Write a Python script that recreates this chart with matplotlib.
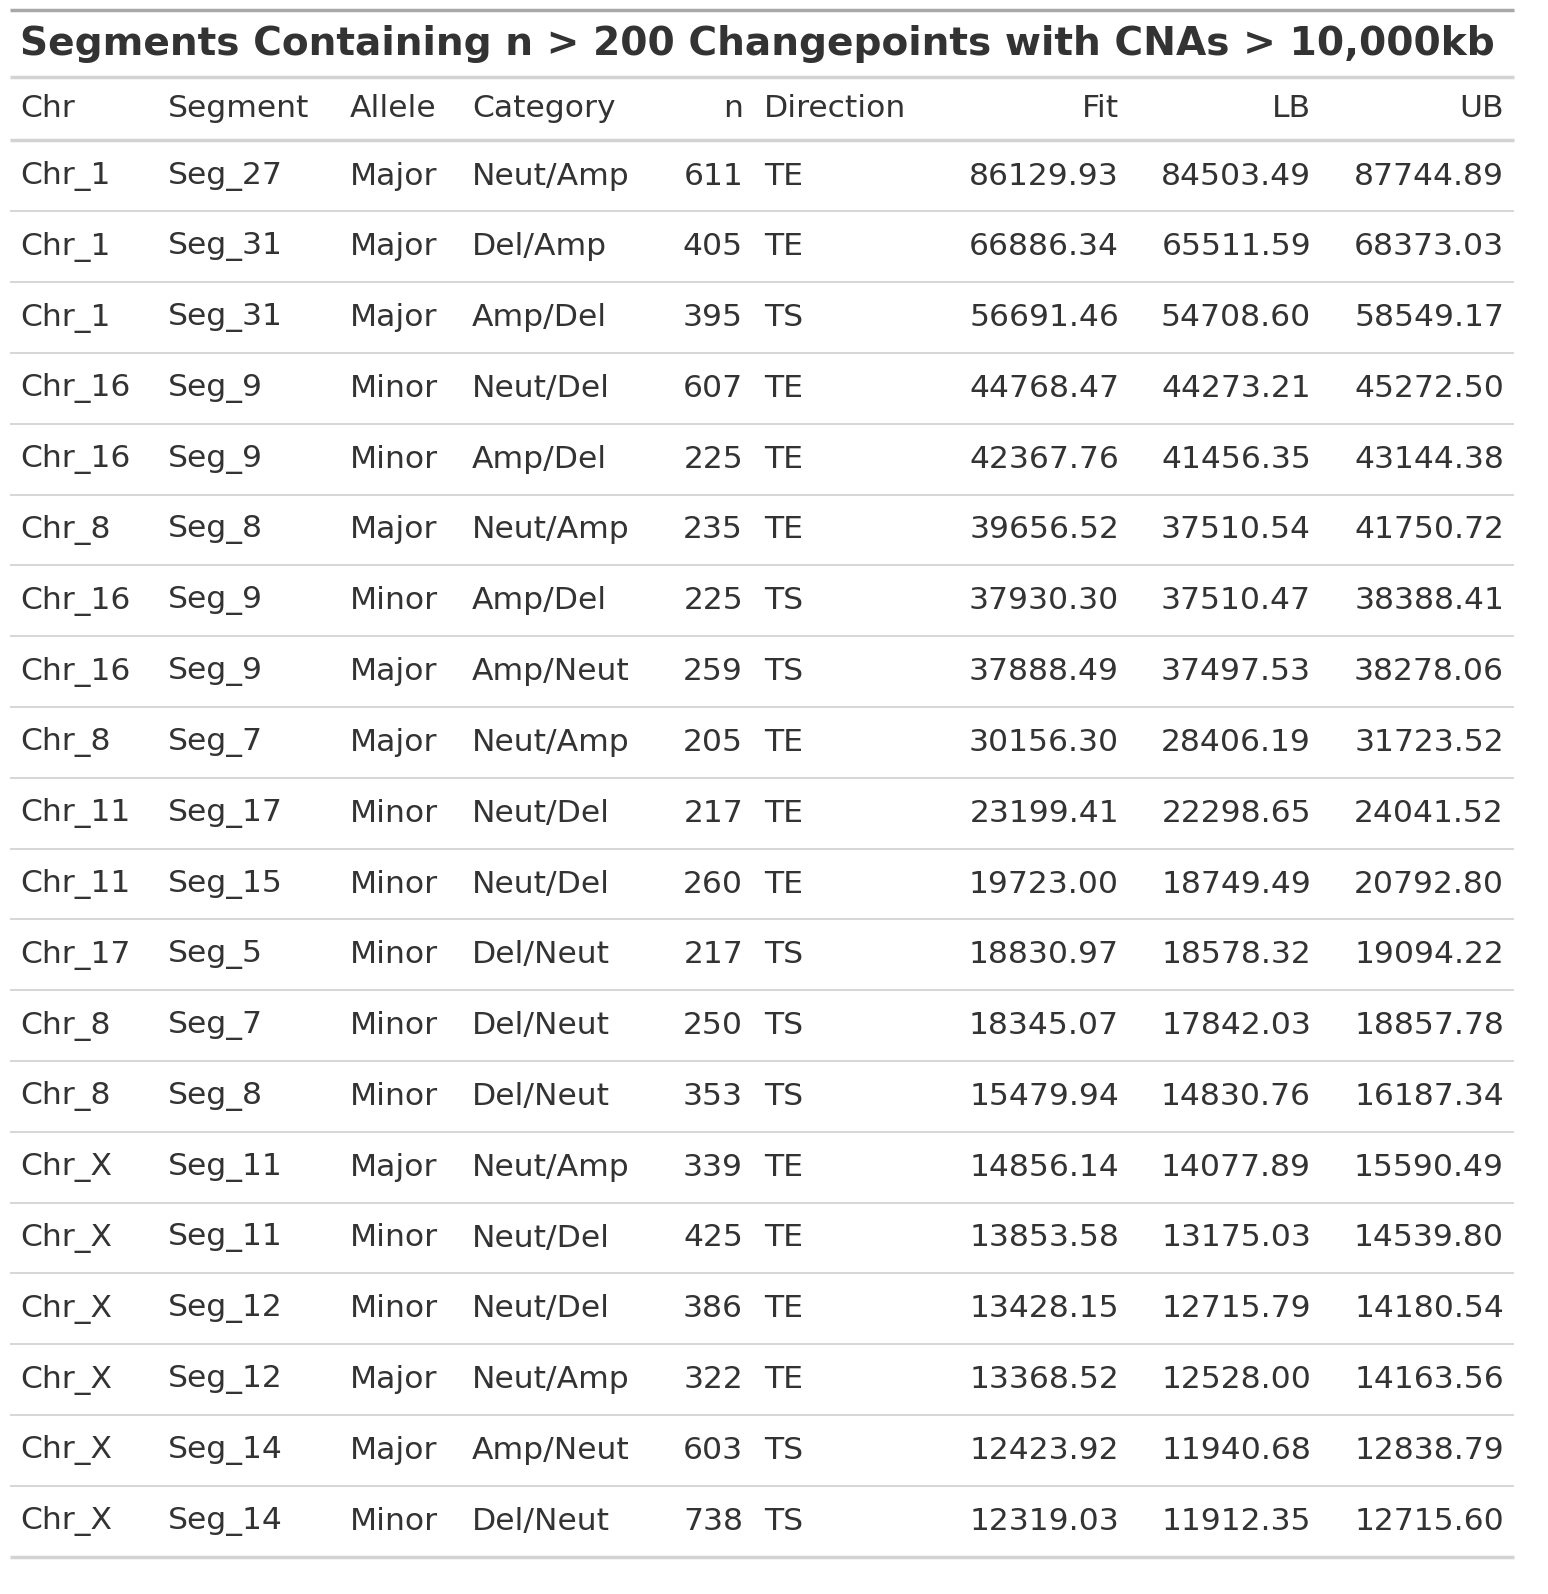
import numpy as np
import matplotlib
matplotlib.use("Agg")
import matplotlib.pyplot as plt

plt.rcParams['font.family'] = ['DejaVu Sans']

title = "Segments Containing n > 200 Changepoints with CNAs > 10,000kb"
headers = ["Chr", "Segment", "Allele", "Category", "n", "Direction", "Fit", "LB", "UB"]

chrs = ["Chr_1", "Chr_1", "Chr_1", "Chr_16", "Chr_16", "Chr_8", "Chr_16", "Chr_16", "Chr_8", "Chr_11",
        "Chr_11", "Chr_17", "Chr_8", "Chr_8", "Chr_X", "Chr_X", "Chr_X", "Chr_X", "Chr_X", "Chr_X"]
segments = ["Seg_27", "Seg_31", "Seg_31", "Seg_9", "Seg_9", "Seg_8", "Seg_9", "Seg_9", "Seg_7", "Seg_17",
            "Seg_15", "Seg_5", "Seg_7", "Seg_8", "Seg_11", "Seg_11", "Seg_12", "Seg_12", "Seg_14", "Seg_14"]
alleles = ["Major", "Major", "Major", "Minor", "Minor", "Major", "Minor", "Major", "Major", "Minor",
           "Minor", "Minor", "Minor", "Minor", "Major", "Minor", "Minor", "Major", "Major", "Minor"]
categories = ["Neut/Amp", "Del/Amp", "Amp/Del", "Neut/Del", "Amp/Del", "Neut/Amp", "Amp/Del", "Amp/Neut",
              "Neut/Amp", "Neut/Del", "Neut/Del", "Del/Neut", "Del/Neut", "Del/Neut", "Neut/Amp", "Neut/Del",
              "Neut/Del", "Neut/Amp", "Amp/Neut", "Del/Neut"]
n_vals = [611, 405, 395, 607, 225, 235, 225, 259, 205, 217, 260, 217, 250, 353, 339, 425, 386, 322, 603, 738]
directions = ["TE", "TE", "TS", "TE", "TE", "TE", "TS", "TS", "TE", "TE",
              "TE", "TS", "TS", "TS", "TE", "TE", "TE", "TE", "TS", "TS"]
fit = [86129.93, 66886.34, 56691.46, 44768.47, 42367.76, 39656.52, 37930.30, 37888.49, 30156.30, 23199.41,
       19723.00, 18830.97, 18345.07, 15479.94, 14856.14, 13853.58, 13428.15, 13368.52, 12423.92, 12319.03]
lb = [84503.49, 65511.59, 54708.60, 44273.21, 41456.35, 37510.54, 37510.47, 37497.53, 28406.19, 22298.65,
      18749.49, 18578.32, 17842.03, 14830.76, 14077.89, 13175.03, 12715.79, 12528.00, 11940.68, 11912.35]
ub = [87744.89, 68373.03, 58549.17, 45272.50, 43144.38, 41750.72, 38388.41, 38278.06, 31723.52, 24041.52,
      20792.80, 19094.22, 18857.78, 16187.34, 15590.49, 14539.80, 14180.54, 14163.56, 12838.79, 12715.60]

W, H = 1548, 1594
fig = plt.figure(figsize=(W / 100, H / 100), dpi=100)
ax = fig.add_axes([0, 0, 1, 1])
ax.set_xlim(0, W)
ax.set_ylim(H, 0)
ax.axis('off')

txt = '#333333'
grey = '#d3d3d3'
fs = 22.6

# column anchors (x, alignment)
cols = [(20, 'left'), (168, 'left'), (350, 'left'), (472, 'left'), (743, 'right'),
        (764, 'left'), (1119, 'right'), (1311, 'right'), (1504, 'right')]
x0, x1 = 10, 1514

ax.plot([x0, x1], [10, 10], color='#a8a8a8', lw=2.5, solid_capstyle='butt')
ax.text(20, 44, title, fontsize=28.2, fontweight='bold', color=txt, ha='left', va='center')
ax.plot([x0, x1], [77, 77], color=grey, lw=2.5, solid_capstyle='butt')

for (x, ha), h in zip(cols, headers):
    ax.text(x, 108, h, fontsize=fs, color=txt, ha=ha, va='center')
ax.plot([x0, x1], [140, 140], color=grey, lw=2.5, solid_capstyle='butt')

row0, dy = 176, 70.8
for i in range(len(chrs)):
    y = row0 + i * dy
    vals = [chrs[i], segments[i], alleles[i], categories[i], str(n_vals[i]), directions[i],
            f"{fit[i]:.2f}", f"{lb[i]:.2f}", f"{ub[i]:.2f}"]
    for (x, ha), v in zip(cols, vals):
        ax.text(x, y, v, fontsize=fs, color=txt, ha=ha, va='center')
    yl = y + dy / 2
    if i < len(chrs) - 1:
        ax.plot([x0, x1], [yl, yl], color=grey, lw=1.3, solid_capstyle='butt')
    else:
        ax.plot([x0, x1], [yl, yl], color=grey, lw=2.5, solid_capstyle='butt')

fig.savefig('out.png', dpi=100)
